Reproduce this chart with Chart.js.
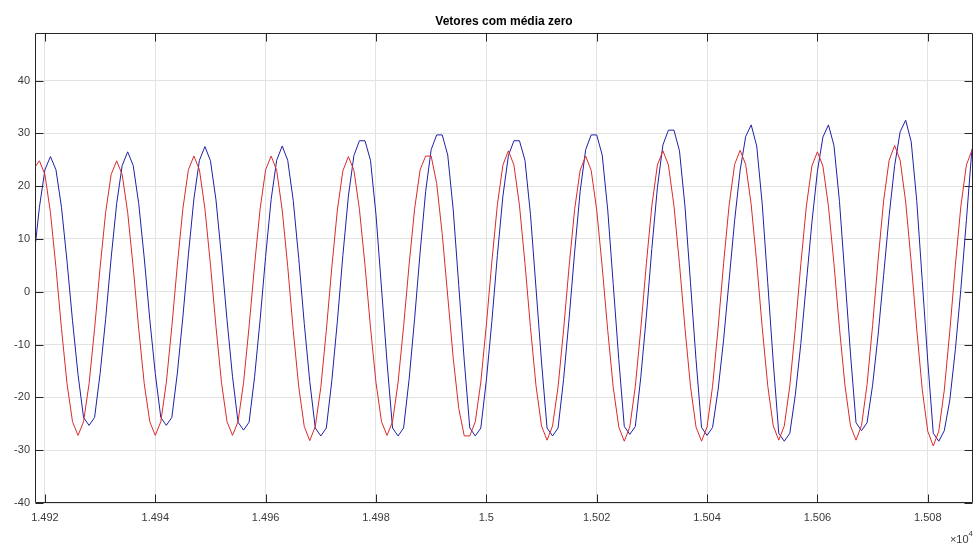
<!DOCTYPE html>
<html>
<head>
<meta charset="utf-8">
<script src="https://cdn.jsdelivr.net/npm/chart.js@4.4.1/dist/chart.umd.min.js"></script>
<style>
  html, body { margin: 0; padding: 0; background: #ffffff; }
  #wrap { width: 977px; height: 551px; position: relative; }
</style>
</head>
<body>
<div id="wrap"><canvas id="c"></canvas></div>
<script>
// ---- data ----
const TITLE = 'Vetores com média zero';
const X_START = 14918;          // first sample index
const X_MIN = 14918.2, X_MAX = 15088.2;
const Y_MIN = -40, Y_MAX = 49;
const X_TICK_STEP = 20, Y_TICK_STEP = 10;
const X_EXPONENT = 4;           // axis labels shown as value / 10^4

const redSeries = [
  23.3, 24.8, 22.2, 15.0, 4.6, -7.0, -17.4, -24.6, -27.2, -24.6,
  -17.4, -7.0, 4.6, 15.0, 22.2, 24.8, 22.2, 15.0, 4.6, -7.0,
  -17.4, -24.6, -27.2, -24.6, -17.2, -6.6, 5.1, 15.7, 23.1, 25.7,
  23.1, 15.7, 5.1, -6.6, -17.2, -24.6, -27.2, -24.6, -17.2, -6.6,
  5.1, 15.7, 23.1, 25.7, 23.0, 15.5, 4.8, -7.3, -18.0, -25.5,
  -28.2, -25.5, -18.1, -7.3, 4.7, 15.5, 22.9, 25.6, 23.0, 15.6,
  5.1, -6.7, -17.2, -24.6, -27.2, -24.6, -17.2, -6.6, 5.1, 15.7,
  23.1, 25.7, 25.7, 20.5, 11.0, -0.8, -12.6, -22.1, -27.3, -27.3,
  -24.6, -17.1, -6.3, 5.7, 16.5, 24.0, 26.7, 24.0, 16.4, 5.4,
  -6.8, -17.8, -25.4, -28.1, -25.4, -18.0, -7.2, 4.8, 15.6, 23.0,
  25.7, 23.0, 15.5, 4.7, -7.3, -18.1, -25.6, -28.3, -25.6, -17.9,
  -6.9, 5.3, 16.3, 24.0, 26.7, 24.0, 16.3, 5.3, -6.9, -17.9,
  -25.6, -28.3, -25.6, -17.9, -6.9, 5.4, 16.4, 24.1, 26.8, 24.1,
  16.5, 5.5, -6.8, -17.8, -25.4, -28.1, -25.4, -17.8, -6.9, 5.3,
  16.2, 23.8, 26.5, 23.8, 16.2, 5.3, -6.9, -17.8, -25.4, -28.1,
  -25.3, -17.6, -6.4, 6.0, 17.2, 24.9, 27.7, 24.9, 17.0, 5.6,
  -7.1, -18.5, -26.4, -29.2, -26.4, -18.6, -7.4, 5.0, 16.2, 24.0,
  26.8
];

const blueSeries = [
  6.4, 16.0, 23.1, 25.6, 23.1, 16.0, 5.8, -5.5, -15.7, -23.8,
  -25.3, -23.8, -15.5, -5.2, 6.4, 16.7, 23.9, 26.5, 23.9, 16.7,
  6.4, -5.2, -15.5, -23.8, -25.3, -23.8, -15.4, -4.8, 7.0, 17.6,
  24.9, 27.5, 24.8, 17.4, 6.6, -5.3, -16.1, -24.7, -26.2, -24.7,
  -16.1, -5.3, 6.7, 17.5, 24.9, 27.6, 24.9, 17.3, 6.3, -6.0,
  -17.0, -25.8, -27.3, -25.8, -16.8, -5.6, 6.9, 18.1, 25.8, 28.6,
  28.6, 24.9, 14.6, 0.7, -13.3, -25.8, -27.3, -25.8, -16.6, -5.1,
  7.5, 19.0, 26.9, 29.7, 29.7, 25.9, 15.5, 1.2, -13.1, -25.8,
  -27.3, -25.8, -16.8, -5.6, 6.9, 18.1, 25.8, 28.6, 28.6, 24.9,
  14.6, 0.7, -13.3, -25.8, -27.3, -25.8, -16.6, -5.1, 7.5, 19.0,
  26.9, 29.7, 29.7, 25.9, 15.5, 1.4, -12.8, -25.5, -27.0, -25.5,
  -16.1, -4.6, 8.2, 19.7, 27.8, 30.6, 30.6, 26.7, 16.2, 1.7,
  -12.8, -25.7, -27.2, -25.7, -18.6, -9.1, 2.2, 13.5, 23.0, 29.4,
  31.6, 27.6, 16.6, 1.7, -13.3, -26.8, -28.3, -26.8, -19.5, -9.8,
  1.7, 13.1, 22.8, 29.3, 31.6, 27.7, 17.1, 2.7, -11.8, -24.8,
  -26.3, -24.8, -17.7, -8.2, 3.1, 14.4, 23.9, 30.3, 32.5, 28.4,
  17.3, 2.1, -13.1, -26.8, -28.3, -26.3, -20.5, -11.0, 0.5, 13.5,
  27.0
];

// ---- chart ----
const toPoints = arr => arr.map((v, i) => ({ x: X_START + i, y: v }));
const FONT = '"Liberation Sans", Arial, Helvetica, sans-serif';
const AXIS_COLOR = '#262626';
const LABEL_COLOR = '#3a3a3a';

const framePlugin = {
  id: 'matlabFrame',
  afterDraw(chart) {
    const { ctx, chartArea: a, scales } = chart;
    const L = Math.round(a.left) + 0.5, R = Math.round(a.right) - 0.5;
    const T = Math.round(a.top) + 0.5, B = Math.round(a.bottom) - 0.5;
    const TL = 8;
    ctx.save();
    ctx.strokeStyle = AXIS_COLOR;
    ctx.lineWidth = 1;
    ctx.beginPath();
    ctx.rect(L, T, R - L, B - T);
    scales.x.ticks.forEach(t => {
      const px = Math.round(scales.x.getPixelForValue(t.value)) + 0.5;
      ctx.moveTo(px, B); ctx.lineTo(px, B - TL);
      ctx.moveTo(px, T); ctx.lineTo(px, T + TL);
    });
    scales.y.ticks.forEach(t => {
      const py = Math.round(scales.y.getPixelForValue(t.value)) + 0.5;
      ctx.moveTo(L, py); ctx.lineTo(L + TL, py);
      ctx.moveTo(R, py); ctx.lineTo(R - TL, py);
    });
    ctx.stroke();
    // exponent label "×10^4"
    ctx.fillStyle = LABEL_COLOR;
    ctx.textBaseline = 'alphabetic';
    ctx.textAlign = 'right';
    ctx.font = '8px ' + FONT;
    const supW = ctx.measureText(String(X_EXPONENT)).width;
    ctx.fillText(String(X_EXPONENT), a.right, 536);
    ctx.font = '11px ' + FONT;
    ctx.fillText('\u00d710', a.right - supW, 543);
    ctx.restore();
  }
};

new Chart(document.getElementById('c'), {
  type: 'line',
  data: {
    datasets: [
      {
        label: 'red',
        data: toPoints(redSeries),
        borderColor: '#dc2a2a',
        borderWidth: 1,
        pointRadius: 0,
        tension: 0,
        fill: false
      },
      {
        label: 'blue',
        data: toPoints(blueSeries),
        borderColor: '#1f1fa8',
        borderWidth: 1,
        pointRadius: 0,
        tension: 0,
        fill: false
      }
    ]
  },
  options: {
    responsive: true,
    maintainAspectRatio: false,
    animation: false,
    events: [],
    layout: { padding: { top: 0, right: 4, bottom: 0, left: 0 } },
    plugins: {
      legend: { display: false },
      tooltip: { enabled: false },
      title: {
        display: true,
        text: TITLE,
        fullSize: false,
        color: '#000000',
        font: { family: FONT, size: 12, weight: 'bold', lineHeight: 1.2 },
        padding: { top: 14, bottom: 4.6 }
      }
    },
    scales: {
      x: {
        type: 'linear',
        min: X_MIN,
        max: X_MAX,
        afterFit: s => { s.height = 48; },
        border: { display: false },
        grid: { color: '#e3e3e3', lineWidth: 1, drawTicks: false },
        ticks: {
          stepSize: X_TICK_STEP,
          includeBounds: false,
          autoSkip: false,
          maxRotation: 0,
          padding: 8,
          color: LABEL_COLOR,
          font: { family: FONT, size: 11 },
          callback: v => String(v / Math.pow(10, X_EXPONENT))
        }
      },
      y: {
        type: 'linear',
        min: Y_MIN,
        max: Y_MAX,
        afterFit: s => { s.width = 35; },
        border: { display: false },
        grid: { color: '#e3e3e3', lineWidth: 1, drawTicks: false },
        ticks: {
          stepSize: Y_TICK_STEP,
          includeBounds: false,
          autoSkip: false,
          padding: 5,
          color: LABEL_COLOR,
          font: { family: FONT, size: 11 }
        }
      }
    }
  },
  plugins: [framePlugin]
});
</script>
</body>
</html>
